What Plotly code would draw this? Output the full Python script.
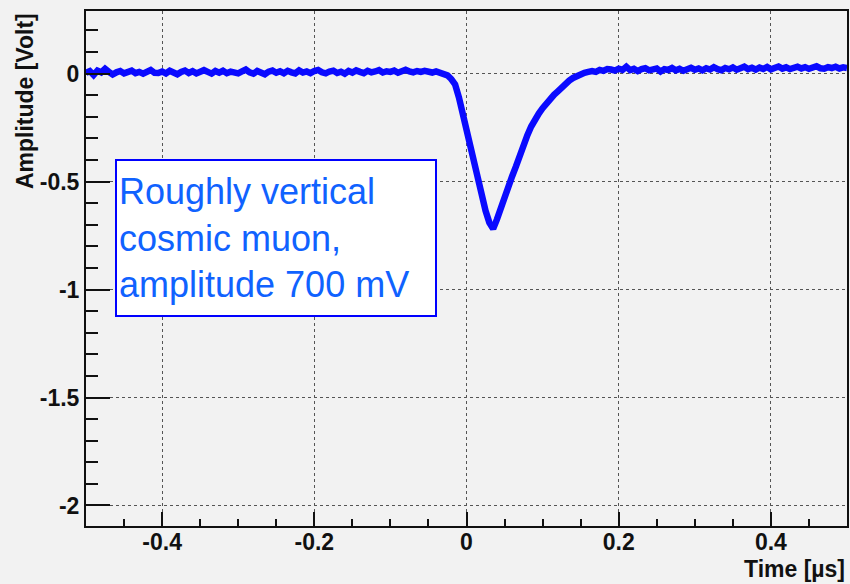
import plotly.graph_objects as go

# waveform sampled every 5 ns from -0.5 us
t_start = -0.5
t_step = 0.005

baseline_pre = [
    0.004, 0.012, -0.006, 0.014, 0.006, 0.022, 0.008, -0.004, 0.006, 0.012,
    0.001, 0.010, 0.014, 0.002, 0.008, 0.000, 0.011, 0.017, 0.004, 0.003,
    0.010, 0.001, 0.013, 0.005, -0.003, 0.008, 0.014, 0.003, 0.011, 0.001,
    0.006, 0.016, 0.008, 0.000, 0.012, 0.004, 0.013, 0.002, 0.009, 0.005,
    0.001, 0.010, 0.019, 0.006, 0.000, 0.012, 0.005, -0.003, 0.009, 0.014,
    0.004, 0.011, 0.002, 0.013, 0.006, 0.001, 0.015, 0.005, 0.010, 0.002,
    0.012, 0.017, 0.006, 0.001, 0.010, 0.014, 0.003, 0.009, 0.000, 0.012,
    0.005, 0.015, 0.008, 0.002, 0.013, 0.006, 0.010, 0.016, 0.005, 0.011,
    0.008, 0.014, 0.004, 0.010, 0.018, 0.010, 0.006, 0.012, 0.008, 0.013,
    0.009, 0.005, 0.010, 0.003,
]
pulse = [
    0.002, -0.008, -0.025, -0.050, -0.110, -0.190,
    -0.260, -0.340, -0.420, -0.495, -0.570, -0.635, -0.690, -0.718,
    -0.675, -0.620, -0.570, -0.520, -0.475, -0.430, -0.375, -0.330,
    -0.285, -0.245, -0.210, -0.185, -0.160, -0.135, -0.115, -0.098,
    -0.082, -0.062, -0.045, -0.032, -0.020, -0.010, -0.003, 0.004,
    0.008, 0.012, 0.008, 0.017, 0.013, 0.021,
]
baseline_post = [
    0.019, 0.014, 0.023, 0.017, 0.032, 0.016, 0.022, 0.012, 0.021, 0.025,
    0.015, 0.020, 0.024, 0.010, 0.021, 0.017, 0.026, 0.015, 0.022, 0.013,
    0.023, 0.027, 0.018, 0.024, 0.015, 0.025, 0.019, 0.030, 0.021, 0.016,
    0.026, 0.020, 0.029, 0.018, 0.025, 0.032, 0.021, 0.027, 0.019, 0.028,
    0.022, 0.031, 0.020, 0.026, 0.033, 0.023, 0.029, 0.021, 0.027, 0.032,
    0.024, 0.030, 0.022, 0.028, 0.034, 0.025, 0.023, 0.030, 0.026, 0.032,
    0.024, 0.029, 0.026,
]
amplitude = baseline_pre + pulse + baseline_post

x_ticks = [-0.4, -0.2, 0, 0.2, 0.4]
x_ticktext = ["-0.4", "-0.2", "0", "0.2", "0.4"]
y_ticks = [-2, -1.5, -1, -0.5, 0]
y_ticktext = ["-2", "-1.5", "-1", "-0.5", "0"]

label_text = "Roughly vertical<br>cosmic muon,<br>amplitude 700 mV"

BG = "#f2f2f2"
tick_font = {"family": "Arial, Liberation Sans", "size": 23,
             "color": "#111", "weight": "bold"}
title_font = {"family": "Arial, Liberation Sans", "size": 23,
              "color": "#111", "weight": "bold"}

fig = go.Figure()
fig.add_trace(go.Scatter(
    x0=t_start, dx=t_step, y=amplitude, mode="lines",
    line={"color": "#0a0aff", "width": 6.5},
    showlegend=False, hoverinfo="skip",
))

axis_common = dict(
    showline=True, linecolor="#111", linewidth=2, mirror=True,
    ticks="inside", tickcolor="#111", tickwidth=2,
    showgrid=True, gridcolor="#555", gridwidth=1, griddash="dot",
    zeroline=False, tickfont=tick_font,
)

fig.update_xaxes(
    range=[-0.5, 0.5], tickvals=x_ticks, ticktext=x_ticktext, ticklen=14,
    ticklabelstandoff=-6,
    minor={"dtick": 0.05, "tick0": 0, "ticks": "inside", "ticklen": 7,
           "tickcolor": "#111", "tickwidth": 2, "showgrid": False},
    **axis_common,
)
fig.update_yaxes(
    range=[-2.095, 0.29], tickvals=y_ticks, ticktext=y_ticktext, ticklen=24,
    minor={"dtick": 0.1, "tick0": 0, "ticks": "inside", "ticklen": 12,
           "tickcolor": "#111", "tickwidth": 2, "showgrid": False},
    **axis_common,
)

fig.add_annotation(
    text=label_text, xref="x domain", yref="y domain",
    x=0.038, y=0.713, xanchor="left", yanchor="top",
    showarrow=False, align="left", valign="middle",
    width=314, height=150, borderpad=2,
    bgcolor="white", bordercolor="#0000ff", borderwidth=2,
    font={"family": "Arial, Liberation Sans", "size": 36, "color": "#1062ff"},
)
fig.add_annotation(
    text="Amplitude [Volt]", xref="paper", yref="paper",
    x=-0.08, y=1.0, xanchor="center", yanchor="top", textangle=-90,
    showarrow=False, font=title_font,
)
fig.add_annotation(
    text="Time [µs]", xref="paper", yref="paper",
    x=1.0, y=-0.054, xanchor="right", yanchor="top",
    showarrow=False, font=title_font,
)

fig.update_layout(
    width=850, height=584,
    paper_bgcolor=BG, plot_bgcolor=BG,
    margin={"l": 86, "r": 1, "t": 11, "b": 58},
    showlegend=False,
)

fig.write_html("out.html", config={"displayModeBar": False},
               post_script="document.body.style.margin='0';")
